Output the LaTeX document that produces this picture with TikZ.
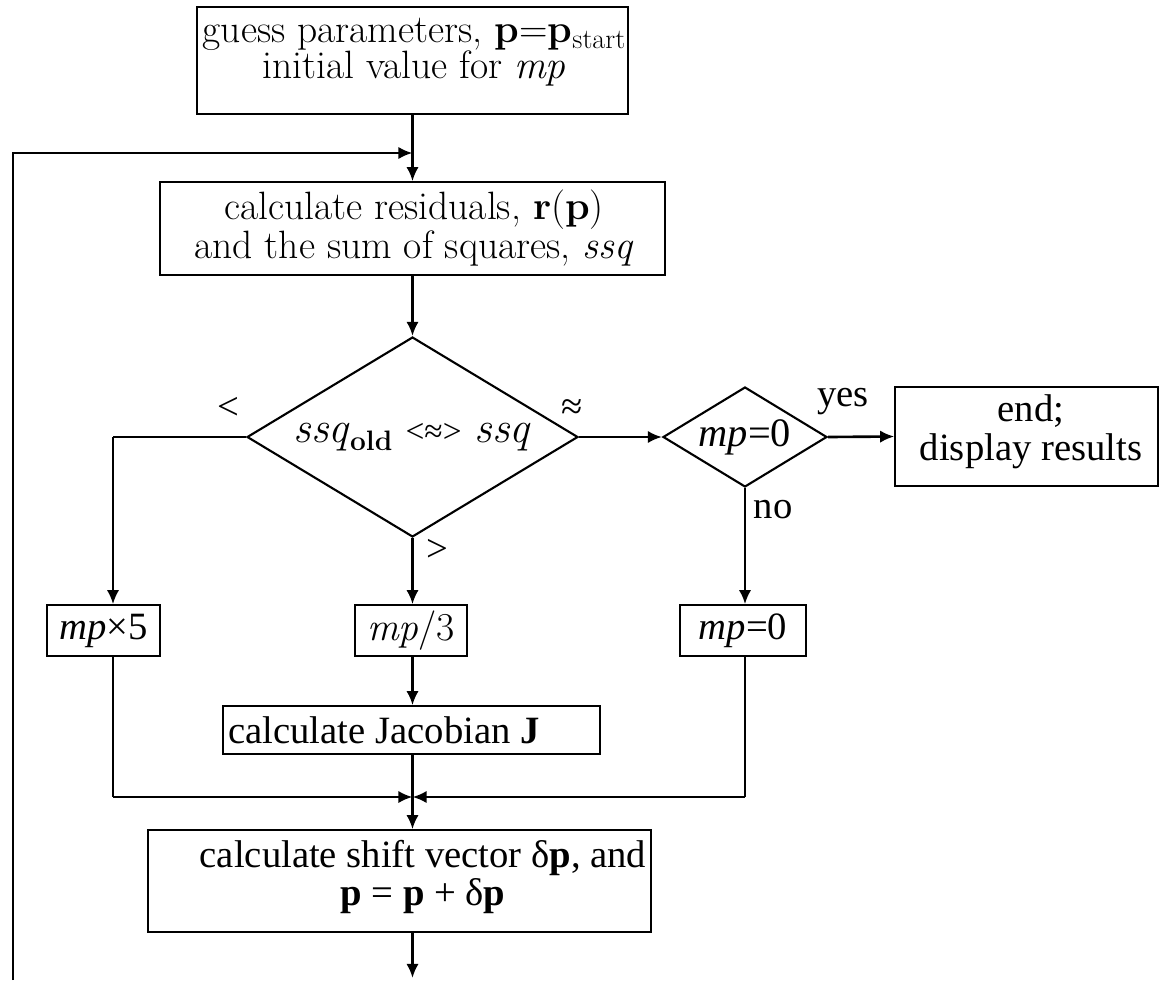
\documentclass[tikz,border=0pt]{standalone}
\usepackage{fontspec}
\newfontfamily\tms{Liberation Serif}
\usetikzlibrary{shapes.geometric,arrows.meta}
\tikzset{
  box/.style={draw, line width=0.9pt, inner sep=0pt},
  dia/.style={draw, diamond, line width=1.2pt, inner sep=0pt},
  conn/.style={line width=1.5pt},
  arr/.style={conn, -{Latex[length=8pt,width=7pt]}},
  thinl/.style={line width=0.8pt},
  cmt/.style={font=\fontsize{22.5}{20.5}\selectfont, align=center, inner sep=0pt},
  tmt/.style={font=\tms\fontsize{22}{22}\selectfont, align=center, inner sep=0pt},
}
\begin{document}
\begin{tikzpicture}[x=0.02cm,y=-0.02cm]
\useasboundingbox (0,0) rectangle (1159,980);
% boxes
\node[box, minimum width=8.62cm, minimum height=2.14cm] (start) at (412.5,60.5) {};
\node[cmt] (startT) at (414,52) {guess parameters, \textbf{p}=\textbf{p}\raisebox{-0.35ex}{\fontsize{16}{16}\selectfont start}\\ initial value for \textit{mp}};
\node[box, minimum width=10.1cm, minimum height=1.86cm] (resid) at (412.5,228.5) {};
\node[cmt] (residT) at (414,228) {calculate residuals, \textbf{r}(\textbf{p})\\ and the sum of squares, \textit{ssq}};
\node[dia, aspect=1.655, minimum width=6.62cm, minimum height=4cm] (d1) at (412.5,437)
  {\fontsize{25}{22}\selectfont\textit{ssq}\raisebox{-0.4ex}{\fontsize{16}{16}\selectfont\bfseries old} {\tms\fontsize{19}{19}\selectfont <≈>} \textit{ssq}};
\node[dia, aspect=1.64, minimum width=3.28cm, minimum height=2cm] (d2) at (745,437)
  {\tms\fontsize{23}{22}\selectfont\textit{mp}=0};
\node[box, minimum width=5.26cm, minimum height=1.98cm] (endb) at (1026.5,436.5) {};
\node[tmt] (endT) at (1031,432) {end;\\ display results};
\node[box, minimum width=2.26cm, minimum height=1.02cm, tmt] (mpx) at (103.5,630.5) {\textit{mp}×5};
\node[box, minimum width=2.24cm, minimum height=1.02cm, cmt] (mpd) at (411,630.5) {\textit{mp}/3};
\node[box, minimum width=2.52cm, minimum height=1.02cm, tmt] (mpz) at (743,630.5) {\textit{mp}=0};
\node[box, minimum width=7.54cm, minimum height=0.96cm] (jac) at (411.5,730) {};
\node[tmt, anchor=west] (jacT) at (228,730) {calculate Jacobian \textbf{J}};
\node[box, minimum width=10.06cm, minimum height=2.04cm] (shift) at (399.5,881) {};
\node[tmt] (shiftT) at (423,877) {calculate shift vector δ\textbf{p}, and\\ \textbf{p} = \textbf{p} + δ\textbf{p}};
% labels
\node[tmt] (lt) at (228,408) {<};
\node[tmt] (ap) at (572,410) {≈};
\node[tmt] (gt) at (437,550) {>};
\node[tmt] (yes) at (843,402) {yes};
\node[tmt] (no) at (773,510) {no};
% coordinates
\coordinate (loopB) at (13,980);
\coordinate (loopT) at (13,153);
\coordinate (lc) at (113,437);
\coordinate (m) at (412.5,797);
\coordinate (bot) at (412.5,978);
% connectors
\draw[arr] (start.south) -- (resid.north);
\draw[arr] (loopB) -- (loopT) -- (start.south |- loopT);
\draw[arr] (resid.south) -- (d1.north);
\draw[thinl] (d1.west) -- (lc);
\draw[arr] (lc) -- (lc |- mpx.north);
\draw[arr] (d1.south) -- (d1.south |- mpd.north);
\draw[arr] (d1.east) -- (d2.west);
\draw[arr] (d2.east) -- (endb.west);
\draw[arr] (d2.south) -- (d2.south |- mpz.north);
\draw[arr] (mpd.south -| d1.south) -- (jac.north -| d1.south);
\draw[thinl] (lc |- mpx.south) -- (lc |- m);
\draw[arr] (lc |- m) -- (m);
\draw[thinl] (d2.south |- mpz.south) -- (d2.south |- m);
\draw[arr] (d2.south |- m) -- (m);
\draw[arr] (jac.south -| m) -- (shift.north -| m);
\draw[arr] (shift.south -| m) -- (bot);
\end{tikzpicture}
\end{document}
